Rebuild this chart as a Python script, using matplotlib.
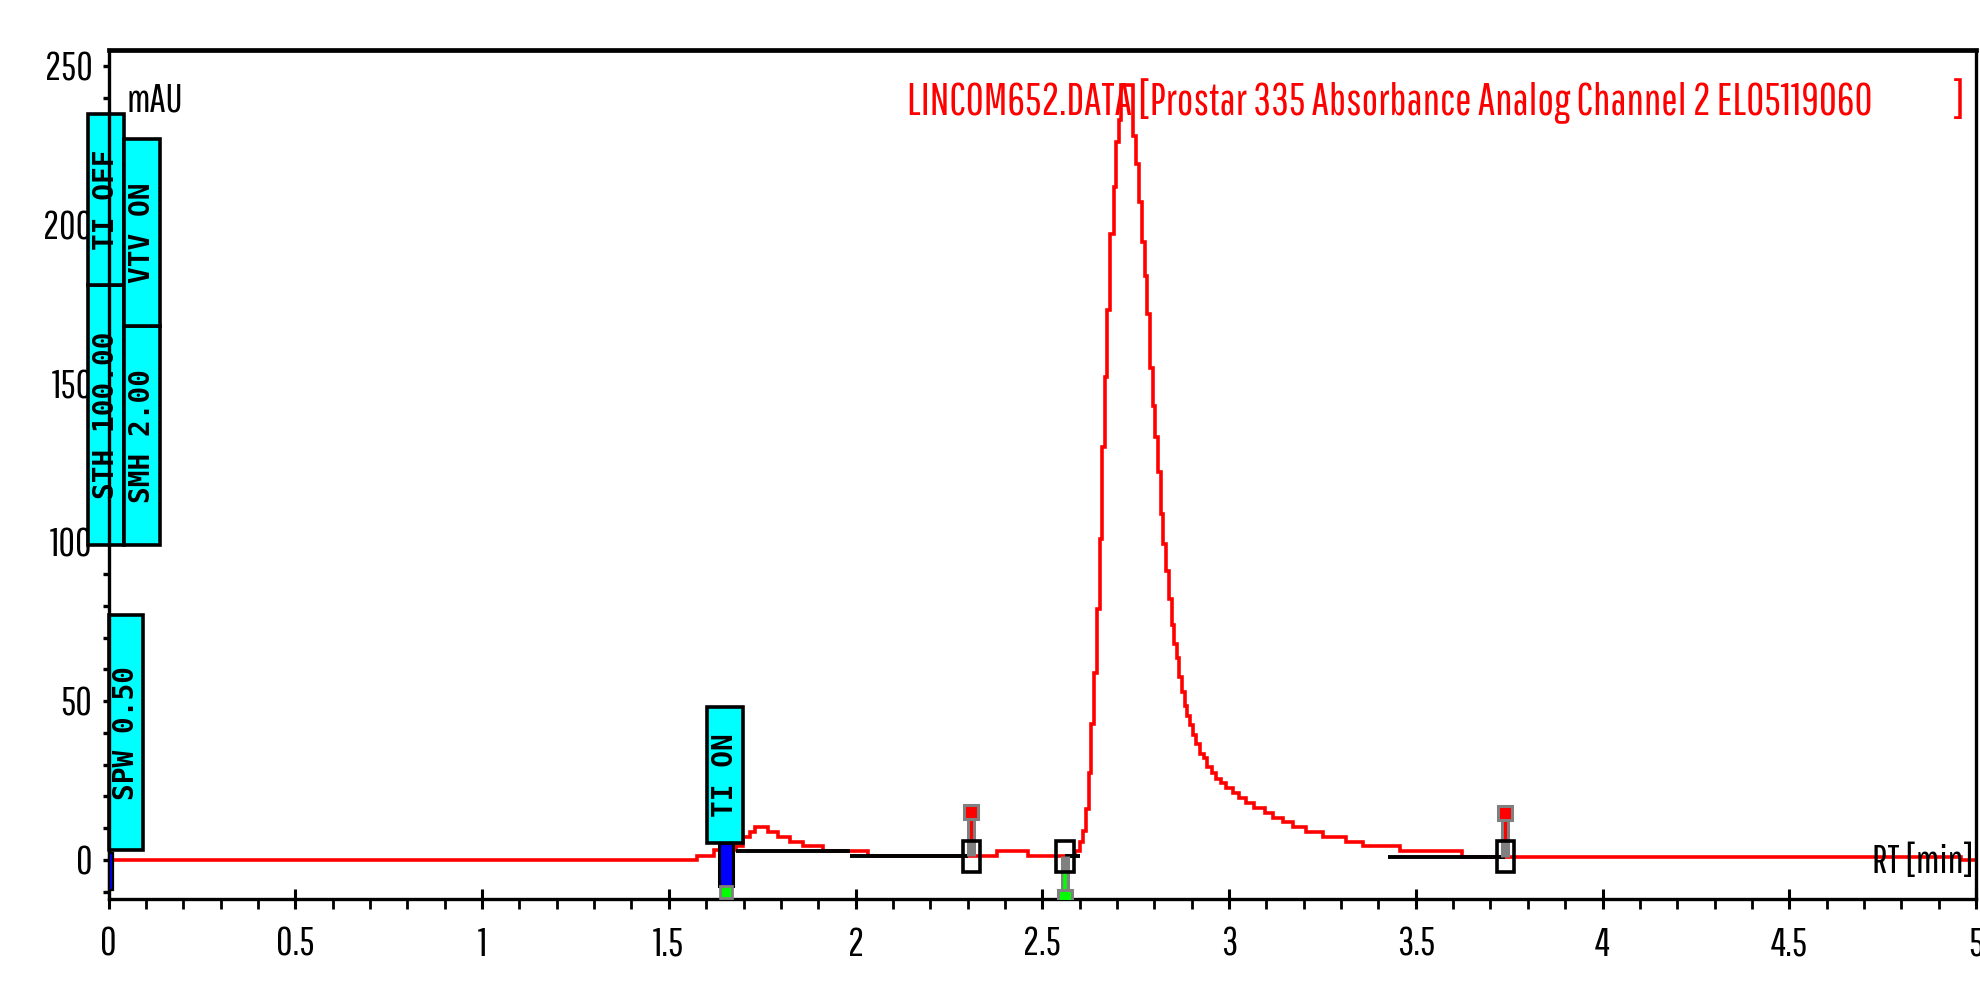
import matplotlib
matplotlib.use('Agg')
import matplotlib.pyplot as plt
from matplotlib import font_manager as fm
from matplotlib.patches import Rectangle
from matplotlib.ticker import MultipleLocator

# ============================================================
# Data (RT in min, signal in mAU)
# ============================================================
# detector trace, step points (value holds until the next RT)
rt = [0.000, 1.575, 1.620, 1.680, 1.699, 1.717, 1.730, 1.766, 1.793, 1.824,
      1.859, 1.913, 2.033, 2.379, 2.462, 2.587, 2.600, 2.609, 2.618, 2.625,
      2.631, 2.638, 2.646, 2.654, 2.660, 2.667, 2.674, 2.680, 2.691, 2.696,
      2.705, 2.710, 2.742, 2.752, 2.758, 2.766, 2.776, 2.781, 2.788, 2.796,
      2.803, 2.810, 2.818, 2.824, 2.831, 2.838, 2.846, 2.853, 2.860, 2.867,
      2.874, 2.881, 2.888, 2.895, 2.903, 2.912, 2.923, 2.932, 2.941, 2.955,
      2.966, 2.979, 2.993, 3.010, 3.028, 3.046, 3.068, 3.095, 3.118, 3.144,
      3.171, 3.207, 3.251, 3.314, 3.358, 3.457, 3.625, 4.960, 5.000]
mau = [0.0, 1.2, 3.0, 4.5, 7.2, 8.8, 10.4, 8.8, 7.2, 5.7,
       4.4, 2.8, 1.2, 2.8, 1.2, 2.7, 5.5, 9.0, 16.0, 27.4,
       42.7, 59.0, 78.9, 101.0, 130.0, 152.0, 173.0, 197.0, 212.0, 226.0,
       233.0, 244.0, 228.0, 219.0, 207.0, 194.5, 184.0, 172.0, 155.0, 143.0,
       133.0, 122.0, 109.0, 99.5, 91.0, 82.0, 74.0, 68.0, 63.6, 57.6,
       53.0, 48.5, 45.4, 42.6, 39.4, 36.6, 33.5, 32.0, 29.2, 27.4,
       25.6, 24.2, 22.6, 21.0, 19.5, 17.9, 16.3, 14.7, 13.1, 11.8,
       10.5, 8.9, 7.3, 5.8, 4.4, 2.9, 1.0, 0.0, 0.0]

# integration baselines
base_start = [1.680, 1.985, 2.560, 3.425]
base_end = [1.985, 2.300, 2.600, 3.740]
base_level = [2.8, 1.2, 1.1, 1.0]

# peak start / stop marks
mark_rt = [2.310, 2.561, 3.740]
mark_level = [1.2, 1.2, 1.0]
mark_kind = ["stop", "start", "stop"]

# timed events
event_rt = [0.0, 1.653]
event_labels = ["SPW 0.50", "STH 100.00", "TI OFF", "SMH 2.00", "VTV ON", "TI ON"]

title_main = "LINCOM652.DATA [Prostar 335 Absorbance Analog Channel 2 EL05119060"

# ============================================================
# Fonts: tall narrow face if one is there, else DejaVu at smaller size
# ============================================================
NARROW = ['Pathway Gothic One', 'Archivo Narrow', 'Asap Condensed',
          'Liberation Sans Narrow', 'DejaVu Sans']
found = fm.findfont(fm.FontProperties(family=NARROW))
narrow_ok = 'DejaVu' not in found
TICK_FS = 29 if narrow_ok else 21

# ============================================================
# Figure
# ============================================================
fig = plt.figure(figsize=(19.8, 9.81), dpi=100)
ax = fig.add_axes([108.6 / 1980, 1 - 899 / 981, (1976 - 108.6) / 1980, 849 / 981])
ax.set_xlim(0, 5)
ax.set_ylim(-12.3, 255.0)

# trace + baselines
ax.plot(rt, mau, drawstyle='steps-post', color='#ff0000', lw=2.6, zorder=1.6,
        solid_joinstyle='miter')
ax.hlines(base_level, base_start, base_end, color='black', lw=2.8, zorder=3)

# peak marks: open boxes with pins
for x, lv, kind in zip(mark_rt, mark_level, mark_kind):
    if kind == "stop":
        ax.vlines(x, lv, lv + 12, color='#808080', lw=6.5, zorder=3.2)
        ax.vlines(x, lv + 5, lv + 12, color='#ff0000', lw=2.2, zorder=3.3)
        ax.plot(x, lv + 13.8, marker='s', ms=9.5, mfc='#ff0000', mec='#808080',
                mew=2.2, zorder=3.4)
    else:
        ax.vlines(x, -11.5, lv, color='#808080', lw=6.5, zorder=3.2)
        ax.vlines(x, -11.5, lv - 5, color='#00ff00', lw=2.6, zorder=3.3)
        ax.plot(x, -11.8, marker='s', ms=9.5, mfc='#00ff00', mec='#808080',
                mew=2.2, zorder=3.4)
    ax.add_patch(Rectangle((x - 0.023, lv - 4.9), 0.046, 9.8, fill=False,
                           ec='black', lw=2.6, zorder=4))

# event ticks at the axis (blue bars, green foot)
ax.add_patch(Rectangle((event_rt[0], -9.5), 0.013, 11.7, fc='#0000ff', ec='black',
                       lw=1.6, zorder=4, clip_on=False))
ax.add_patch(Rectangle((event_rt[1] - 0.019, -8.2), 0.038, 13.5, fc='#0000ff',
                       ec='black', lw=2.2, zorder=4))
ax.plot(event_rt[1], -10.2, marker='s', ms=9, mfc='#00ff00', mec='#808080',
        mew=2, zorder=4)

# event label boxes (x0, x1, y0, y1)
box_layout = [(0.000, 0.091, 3.0, 77.0),
              (-0.055, 0.041, 99.0, 181.0),
              (-0.055, 0.041, 181.0, 235.0),
              (0.041, 0.137, 99.0, 168.0),
              (0.041, 0.137, 168.0, 227.0),
              (1.603, 1.699, 5.4, 48.2)]
for label, (x0, x1, y0, y1) in zip(event_labels, box_layout):
    ax.add_patch(Rectangle((x0, y0), x1 - x0, y1 - y0, fc='#00ffff', ec='black',
                           lw=2.6, zorder=2, clip_on=False))
    ax.text((x0 + x1) / 2, (y0 + y1) / 2, label, rotation=90, ha='center',
            va='center', family='DejaVu Sans Mono', weight='bold', fontsize=20,
            color='black', zorder=6, clip_on=False)

# title: fit the text to the span it has in the picture (x 907..1874 px)
renderer = fig.canvas.get_renderer()
t = ax.text(2.137, 239, title_main, color='#ff0000', family=NARROW,
            fontsize=24, ha='left', va='center', zorder=5)
w = t.get_window_extent(renderer).width
fs = 24 * 967 / w
t.set_fontsize(fs)
sp = fig.text(0, 0, "a a", family=NARROW, fontsize=fs)
sa = fig.text(0, 0, "aa", family=NARROW, fontsize=fs)
space_w = sp.get_window_extent(renderer).width - sa.get_window_extent(renderer).width
sp.remove()
sa.remove()
n_sp = max(1, int(round(84 / max(space_w, 1))))
t.set_text(title_main + " " * n_sp + "]")

ax.text(0.047, 239, "mAU", color='black', family=NARROW, fontsize=TICK_FS,
        ha='left', va='center', zorder=5)
ax.text(4.995, -0.6, "RT [min]", color='black', family=NARROW, fontsize=TICK_FS,
        ha='right', va='center', zorder=5)

# axes styling
for s in ax.spines.values():
    s.set_linewidth(2.4)
ax.spines['top'].set_linewidth(3.4)
ax.xaxis.set_major_locator(MultipleLocator(0.5))
ax.xaxis.set_minor_locator(MultipleLocator(0.1))
ax.yaxis.set_major_locator(MultipleLocator(50))
ax.yaxis.set_minor_locator(MultipleLocator(10))
ax.xaxis.set_major_formatter(plt.FuncFormatter(lambda v, p: f"{v:g}"))
ax.tick_params(axis='x', which='major', direction='inout', length=14, width=2.2,
               pad=13, labelsize=TICK_FS)
ax.tick_params(axis='x', which='minor', direction='out', length=7, width=2.0)
ax.tick_params(axis='y', which='major', direction='out', length=4.5, width=2.4,
               pad=7, labelsize=TICK_FS)
ax.tick_params(axis='y', which='minor', direction='out', length=4.5, width=2.4)
for lab in ax.get_xticklabels() + ax.get_yticklabels():
    lab.set_family(NARROW)

fig.savefig("out.png", dpi=100)
